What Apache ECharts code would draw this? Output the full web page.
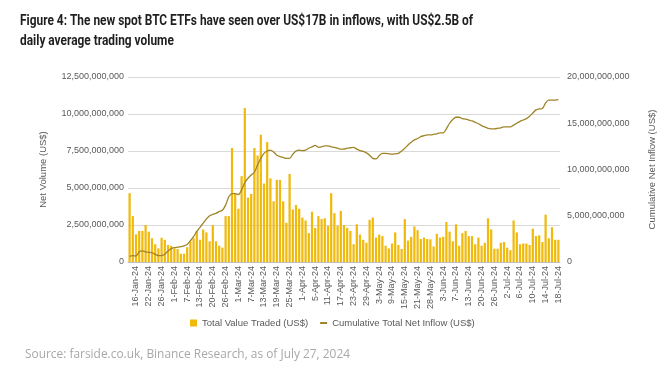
<!DOCTYPE html>
<html>
<head>
<meta charset="utf-8">
<script src="https://cdn.jsdelivr.net/npm/echarts@6/dist/echarts.min.js"></script>
<style>
html,body{margin:0;padding:0;background:#fff;}
#chart{width:670px;height:382px;}
</style>
</head>
<body>
<div id="chart"></div>
<script>
// Trading-day categories
const categories = ['11-Jan-24','12-Jan-24','16-Jan-24','17-Jan-24','18-Jan-24','19-Jan-24','22-Jan-24','23-Jan-24','24-Jan-24','25-Jan-24','26-Jan-24','29-Jan-24','30-Jan-24','31-Jan-24','1-Feb-24','2-Feb-24','5-Feb-24','6-Feb-24','7-Feb-24','8-Feb-24','9-Feb-24','12-Feb-24','13-Feb-24','14-Feb-24','15-Feb-24','16-Feb-24','20-Feb-24','21-Feb-24','22-Feb-24','23-Feb-24','26-Feb-24','27-Feb-24','28-Feb-24','29-Feb-24','1-Mar-24','4-Mar-24','5-Mar-24','6-Mar-24','7-Mar-24','8-Mar-24','11-Mar-24','12-Mar-24','13-Mar-24','14-Mar-24','15-Mar-24','18-Mar-24','19-Mar-24','20-Mar-24','21-Mar-24','22-Mar-24','25-Mar-24','26-Mar-24','27-Mar-24','28-Mar-24','1-Apr-24','2-Apr-24','3-Apr-24','4-Apr-24','5-Apr-24','8-Apr-24','9-Apr-24','10-Apr-24','11-Apr-24','12-Apr-24','15-Apr-24','16-Apr-24','17-Apr-24','18-Apr-24','19-Apr-24','22-Apr-24','23-Apr-24','24-Apr-24','25-Apr-24','26-Apr-24','29-Apr-24','30-Apr-24','1-May-24','2-May-24','3-May-24','6-May-24','7-May-24','8-May-24','9-May-24','10-May-24','13-May-24','14-May-24','15-May-24','16-May-24','17-May-24','20-May-24','21-May-24','22-May-24','23-May-24','24-May-24','28-May-24','29-May-24','30-May-24','31-May-24','3-Jun-24','4-Jun-24','5-Jun-24','6-Jun-24','7-Jun-24','10-Jun-24','11-Jun-24','12-Jun-24','13-Jun-24','14-Jun-24','17-Jun-24','18-Jun-24','20-Jun-24','21-Jun-24','24-Jun-24','25-Jun-24','26-Jun-24','27-Jun-24','28-Jun-24','1-Jul-24','2-Jul-24','3-Jul-24','4-Jul-24','5-Jul-24','6-Jul-24','7-Jul-24','8-Jul-24','9-Jul-24','10-Jul-24','11-Jul-24','12-Jul-24','13-Jul-24','14-Jul-24','15-Jul-24','16-Jul-24','17-Jul-24','18-Jul-24'];

// Total value traded (US$ billions)
const volumeB = [4.65,3.1,1.87,2.1,2.1,2.5,2.05,1.6,1.2,0.92,1.64,1.5,1.15,1.1,0.92,0.88,0.56,0.56,1.0,1.4,1.6,2.1,1.5,2.2,2.0,1.4,2.5,1.4,1.1,0.97,3.1,3.1,7.7,4.6,3.6,5.8,10.4,4.35,4.6,7.7,7.2,8.6,5.3,8.1,5.65,4.1,5.55,5.55,4.1,
2.65,5.95,3.55,3.85,3.6,3.0,2.8,1.95,3.4,2.3,3.1,2.9,2.95,2.45,4.65,3.3,2.45,3.45,2.5,2.3,2.1,1.2,2.55,1.85,1.5,1.3,2.85,3.0,1.65,1.85,1.75,1.1,0.92,1.25,2.0,1.15,0.88,2.9,1.45,1.7,2.4,2.15,1.55,1.65,1.55,1.53,1.05,1.9,1.65,
1.7,2.7,2.05,
1.4,2.55,1.1,1.95,2.1,1.75,1.75,1.2,1.65,1.1,1.3,2.95,2.2,0.9,0.9,1.3,1.35,0.97,0.8,2.8,2.0,1.2,1.25,1.25,1.15,2.25,1.75,1.8,1.35,3.2,1.6,2.35,1.5,1.5];

// Cumulative total net inflow (US$ billions)
const cumInflowB = [0.6,0.7,0.65,1.1,1.2,1.1,1.05,1.0,0.83,0.7,0.7,0.83,1.2,1.45,1.55,1.6,1.65,1.75,1.9,2.3,2.75,3.3,3.75,4.2,4.65,5.0,5.15,5.25,5.45,5.6,6.15,7.05,7.4,7.4,7.3,7.8,8.6,9.05,9.4,9.7,10.5,11.2,11.75,12.0,12.1,11.9,11.55,11.4,11.3,
11.2,11.2,11.65,12.0,12.1,12.05,12.1,12.3,12.45,12.6,12.4,12.45,12.55,12.55,12.45,12.4,12.3,12.2,12.2,12.3,12.35,12.4,12.2,12.05,11.95,11.8,11.55,11.2,11.15,11.5,11.75,11.75,11.7,11.65,11.7,11.75,12.0,12.3,12.65,12.95,13.2,13.35,13.55,13.65,13.75,13.75,13.8,13.85,13.95,
13.95,14.4,15.0,15.4,15.65,15.65,15.5,15.45,15.35,15.25,15.1,14.95,14.75,14.6,14.45,14.4,14.4,14.45,14.5,14.6,14.6,14.6,14.8,15.0,15.2,15.35,15.5,15.75,16.1,16.45,16.55,16.6,17.2,17.5,17.5,17.5,17.55];

const seriesNames = ['Total Value Traded (US$)', 'Cumulative Total Net Inflow (US$)'];
const titleLines = ['Figure 4: The new spot BTC ETFs have seen over US$17B in inflows, with US$2.5B of', 'daily average trading volume'];
const sourceText = 'Source: farside.co.uk, Binance Research, as of July 27, 2024';

const fmt = v => Math.round(v * 1e9).toLocaleString('en-US');
const axisFont = {fontFamily: 'Liberation Sans, Arial, sans-serif', fontSize: 9, color: '#595959'};

// measure text to fit the reference's condensed fonts
const mctx = document.createElement('canvas').getContext('2d');
function widthOf(text, font) { mctx.font = font; return mctx.measureText(text).width; }
const titleFont = 'bold 14.5px Roboto, "Noto Sans", sans-serif';
const titleScale = 453 / widthOf(titleLines[0], titleFont);
const sourceFont = '12.5px "Open Sans", "Noto Sans", sans-serif';
const sourceScale = 325 / widthOf(sourceText, sourceFont);

const chart = echarts.init(document.getElementById('chart'), null, {renderer: 'canvas'});
chart.setOption({
  animation: false,
  backgroundColor: '#ffffff',
  grid: {left: 128, right: 110, top: 77, bottom: 120},
  legend: {
    data: [
      {name: seriesNames[0], icon: 'rect'},
      {name: seriesNames[1], icon: 'path://M0,0L0.01,0Z M0,3.5L10,3.5L10,6.5L0,6.5Z M0,10L0.01,10Z'}
    ],
    left: 185, top: 313,
    itemWidth: 7, itemHeight: 7, itemGap: 12,
    textStyle: {fontFamily: 'Liberation Sans, Arial, sans-serif', fontSize: 9.5, color: '#595959'}
  },
  xAxis: {
    type: 'category',
    data: categories,
    axisTick: {show: false},
    axisLine: {lineStyle: {color: '#bfbfbf'}},
    axisLabel: Object.assign({rotate: 90, margin: 4, interval: (i) => i % 4 === 2}, axisFont)
  },
  yAxis: [
    {
      type: 'value', min: 0, max: 12.5, interval: 2.5,
      name: 'Net Volume (US$)', nameLocation: 'middle', nameRotate: 90, nameGap: 80,
      nameTextStyle: {fontFamily: 'Liberation Sans, Arial, sans-serif', fontSize: 9.5, color: '#595959'},
      axisLine: {show: false}, axisTick: {show: false},
      axisLabel: Object.assign({formatter: fmt, margin: 4}, axisFont),
      splitLine: {lineStyle: {color: '#d9d9d9'}}
    },
    {
      type: 'value', min: 0, max: 20, interval: 5, position: 'right',
      name: 'Cumulative Net Inflow (US$)', nameLocation: 'middle', nameRotate: 90, nameGap: 87,
      nameTextStyle: {fontFamily: 'Liberation Sans, Arial, sans-serif', fontSize: 9.5, color: '#595959'},
      axisLine: {show: false}, axisTick: {show: false},
      axisLabel: Object.assign({formatter: fmt, margin: 7}, axisFont),
      splitLine: {show: false}
    }
  ],
  series: [
    {
      name: seriesNames[0], type: 'bar', yAxisIndex: 0,
      data: volumeB, barCategoryGap: '30%',
      itemStyle: {color: '#F0B90B'}
    },
    {
      name: seriesNames[1], type: 'line', yAxisIndex: 1,
      data: cumInflowB, symbol: 'none', smooth: 0.3,
      lineStyle: {color: '#A0842A', width: 1.3},
      itemStyle: {color: '#A0842A'}
    }
  ],
  graphic: [
    {type: 'text', x: 20, y: 14, scaleX: titleScale, originX: 0,
     style: {text: titleLines[0], fill: '#1f1f1f', font: titleFont}},
    {type: 'text', x: 20, y: 34, scaleX: titleScale, originX: 0,
     style: {text: titleLines[1], fill: '#1f1f1f', font: titleFont}},
    {type: 'text', x: 25, y: 348, scaleX: sourceScale, originX: 0,
     style: {text: sourceText, fill: '#a8a8a8', font: sourceFont}}
  ]
});
</script>
</body>
</html>
